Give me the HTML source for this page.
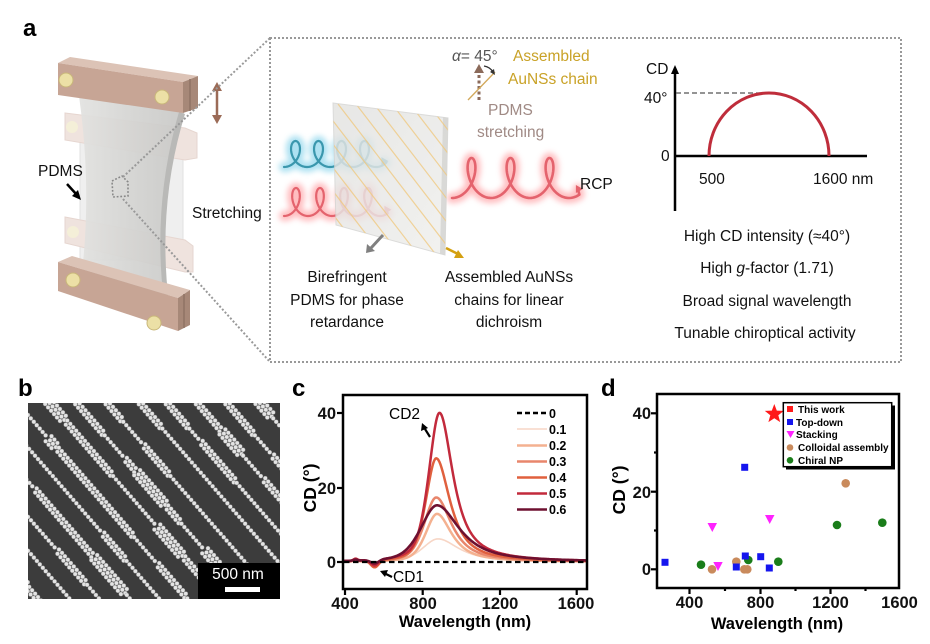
<!DOCTYPE html>
<html>
<head>
<meta charset="utf-8">
<style>
html,body{margin:0;padding:0;background:#fff;}
body{width:930px;height:644px;overflow:hidden;}
svg{display:block;font-family:"Liberation Sans",Arial,sans-serif;}
.lbl{font-weight:bold;font-size:24px;fill:#000;}
.t15{font-size:15.5px;fill:#111;}
.tick{font-weight:bold;font-size:16.5px;fill:#111;}
</style>
</head>
<body>
<svg id="s" width="930" height="644" viewBox="0 0 930 644" xmlns="http://www.w3.org/2000/svg">
<defs>
  <filter id="blur3" x="-20%" y="-50%" width="140%" height="200%"><feGaussianBlur stdDeviation="3"/></filter>
  <clipPath id="clipC"><rect x="344" y="396" width="242" height="192"/></clipPath>
  <clipPath id="clipB"><rect x="28" y="403" width="252" height="196"/></clipPath>
  <linearGradient id="film" x1="0" y1="0" x2="1" y2="0">
    <stop offset="0" stop-color="#e2e2e0"/><stop offset="0.5" stop-color="#d4d4d2"/><stop offset="1" stop-color="#c8c8c6"/>
  </linearGradient>
  <linearGradient id="slab" x1="0" y1="0" x2="1" y2="1">
    <stop offset="0" stop-color="#e2e2e0"/><stop offset="1" stop-color="#efefed"/>
  </linearGradient>
</defs>

<!-- ============ PANEL A ============ -->
<text class="lbl" x="23" y="36">a</text>

<g id="device">
  <rect x="80" y="135" width="103" height="125" fill="#efefef" stroke="#e2e2e2"/>
  <polygon points="65,113 185,128 197,133 197,158 185,160 65,140" fill="#efe3de" stroke="#e6d6d0"/>
  <circle cx="72" cy="127" r="6" fill="#f4efd8"/>
  <polygon points="65,217 185,240 193,246 193,272 185,272 65,243" fill="#efe3de" stroke="#e6d6d0"/>
  <circle cx="73" cy="232" r="6" fill="#f4efd8"/>
  <path d="M79,96 Q93,195 80,288 L168,304 Q150,205 184,113 Z" fill="url(#film)" opacity="0.93"/>
  <path d="M179,112 Q152,205 164,302 L169,304 Q157,205 185,114 Z" fill="#b9b9b7"/>
  <polygon points="58,262 72,256 190,290 178,298" fill="#dcc3b6"/>
  <polygon points="58,262 178,298 178,331 58,291" fill="#c7a595"/>
  <polygon points="178,298 190,290 190,325 178,331" fill="#a78878"/>
  <line x1="184" y1="294" x2="184" y2="328" stroke="#8f7264" stroke-width="1.5"/>
  <circle cx="73" cy="280" r="7" fill="#ece0a6" stroke="#c9b77a"/>
  <circle cx="154" cy="323" r="7" fill="#ece0a6" stroke="#c9b77a"/>
  <polygon points="58,63 70,57 198,76 183,82" fill="#dcc3b6"/>
  <polygon points="58,63 183,82 183,113 58,95" fill="#c7a595"/>
  <polygon points="183,82 198,76 198,108 183,113" fill="#a78878"/>
  <line x1="190" y1="79" x2="190" y2="111" stroke="#8f7264" stroke-width="1.5"/>
  <circle cx="66" cy="80" r="7" fill="#ece0a6" stroke="#c9b77a"/>
  <circle cx="162" cy="97" r="7" fill="#ece0a6" stroke="#c9b77a"/>
  <line x1="217" y1="89" x2="217" y2="117" stroke="#9b6b57" stroke-width="2.5"/>
  <polygon points="217,82 212,91 222,91" fill="#9b6b57"/>
  <polygon points="217,124 212,115 222,115" fill="#9b6b57"/>
  <line x1="67" y1="184" x2="77" y2="195" stroke="#000" stroke-width="2.5"/>
  <polygon points="81,200 72,196 78,190" fill="#000"/>
  <polygon points="112,181 122,176 128,182 128,196 113,197" fill="none" stroke="#888" stroke-width="1.6" stroke-dasharray="1.8 1.8"/>
</g>
<text class="t15" x="38" y="176">PDMS</text>
<text class="t15" x="192" y="218">Stretching</text>

<g stroke="#999" stroke-width="2" stroke-dasharray="2 2" fill="none">
  <line x1="123" y1="177" x2="270" y2="38"/>
  <line x1="123" y1="199" x2="270" y2="362"/>
  <rect x="270" y="38" width="631" height="324"/>
</g>

<g id="helices"></g>

<polygon points="333,103 448,118 445,255 336,225" fill="url(#slab)" opacity="0.82" stroke="#d4d4d2"/>
<polygon points="443,117 448,118 445,255 440,254" fill="#d6d6d4" opacity="0.9"/>
<g id="slablines" stroke="#f0c77a" stroke-width="1.2" opacity="0.75"></g>

<line x1="383" y1="235" x2="371" y2="248" stroke="#808080" stroke-width="3"/>
<polygon points="366,253 367,244 375,251" fill="#808080"/>
<line x1="446" y1="248" x2="458" y2="254" stroke="#d4a011" stroke-width="2.5"/>
<polygon points="464,258 454,258 458,250" fill="#d4a011"/>

<line x1="479" y1="100" x2="479" y2="72" stroke="#8b6a5a" stroke-width="3" stroke-dasharray="3 2.5"/>
<polygon points="479,64 474,73 484,73" fill="#8b6a5a"/>
<line x1="468" y1="100" x2="495" y2="72" stroke="#d2a85a" stroke-width="1.3"/>
<path d="M484,66 Q490,67 493,72" stroke="#333" stroke-width="1.3" fill="none"/>
<polygon points="495,75 490,72 494,69" fill="#333"/>
<text x="452" y="61" style="font-size:15.5px;fill:#555;"><tspan font-style="italic">α</tspan>= 45°</text>
<text x="513" y="61" style="font-size:15.5px;fill:#c9a227;">Assembled</text>
<text x="508" y="84" style="font-size:15.5px;fill:#c9a227;">AuNSs chain</text>
<text x="488" y="115" style="font-size:15.5px;fill:#a08a85;">PDMS</text>
<text x="477" y="137" style="font-size:15.5px;fill:#a08a85;">stretching</text>
<text class="t15" x="580" y="189">RCP</text>

<g class="t15" text-anchor="middle">
  <text x="347" y="282">Birefringent</text>
  <text x="347" y="305">PDMS for phase</text>
  <text x="347" y="327">retardance</text>
  <text x="509" y="282">Assembled AuNSs</text>
  <text x="509" y="305">chains for linear</text>
  <text x="509" y="327">dichroism</text>
</g>

<line x1="675" y1="72" x2="675" y2="211" stroke="#000" stroke-width="2.5"/>
<polygon points="675,65 671,74 679,74" fill="#000"/>
<line x1="674" y1="156" x2="867" y2="156" stroke="#000" stroke-width="2.5"/>
<line x1="676" y1="93" x2="768" y2="93" stroke="#555" stroke-width="1.3" stroke-dasharray="5 3"/>
<path d="M709,156 A60,63 0 0 1 829,156" fill="none" stroke="#bf2d3b" stroke-width="3"/>
<text class="t15" x="646" y="74">CD</text>
<text class="t15" x="644" y="103">40°</text>
<text class="t15" x="661" y="161">0</text>
<text class="t15" x="699" y="184">500</text>
<text class="t15" x="813" y="184">1600 nm</text>
<g class="t15" text-anchor="middle">
  <text x="767" y="241">High CD intensity (≈40°)</text>
  <text x="767" y="273">High <tspan font-style="italic">g</tspan>-factor (1.71)</text>
  <text x="767" y="306">Broad signal wavelength</text>
  <text x="765" y="338">Tunable chiroptical activity</text>
</g>

<!-- ============ PANEL B ============ -->
<text class="lbl" x="18" y="396">b</text>
<rect x="28" y="403" width="252" height="196" fill="#3c3c3c"/>
<g id="sem" clip-path="url(#clipB)"></g>
<rect x="198" y="563" width="82" height="36" fill="#000"/>
<text x="238" y="579" text-anchor="middle" style="font-size:15.5px;fill:#fff;">500 nm</text>
<rect x="225" y="587" width="35" height="5" fill="#fff"/>

<!-- ============ PANEL C ============ -->
<text class="lbl" x="292" y="396">c</text>
<g id="curves" clip-path="url(#clipC)"></g>
<line x1="344" y1="562" x2="586" y2="562" stroke="#000" stroke-width="2.3" stroke-dasharray="5.5 3.5" clip-path="url(#clipC)"/>
<rect x="343" y="395" width="244" height="194" fill="none" stroke="#000" stroke-width="2.5"/>
<g stroke="#000" stroke-width="2.2">
  <line x1="337" y1="413" x2="343" y2="413"/>
  <line x1="337" y1="488" x2="343" y2="488"/>
  <line x1="337" y1="562" x2="343" y2="562"/>
  <line x1="345" y1="589" x2="345" y2="595"/>
  <line x1="422.7" y1="589" x2="422.7" y2="595"/>
  <line x1="500" y1="589" x2="500" y2="595"/>
  <line x1="576.7" y1="589" x2="576.7" y2="595"/>
</g>
<g class="tick" text-anchor="end">
  <text x="336" y="419">40</text>
  <text x="336" y="494">20</text>
  <text x="336" y="568">0</text>
</g>
<g class="tick" text-anchor="middle">
  <text x="345" y="609">400</text>
  <text x="423" y="609">800</text>
  <text x="500" y="609">1200</text>
  <text x="576" y="609">1600</text>
</g>
<text x="465" y="627" text-anchor="middle" style="font-weight:bold;font-size:16.5px;">Wavelength (nm)</text>
<text transform="translate(316,488) rotate(-90)" text-anchor="middle" style="font-weight:bold;font-size:17.5px;">CD (°)</text>
<text x="389" y="419" style="font-size:15.5px;">CD2</text>
<line x1="430" y1="437" x2="425" y2="429" stroke="#000" stroke-width="2.2"/>
<polygon points="422,423 421,431 428,428" fill="#000"/>
<text x="393" y="582" style="font-size:15.5px;">CD1</text>
<line x1="392" y1="577" x2="386" y2="574" stroke="#000" stroke-width="2.2"/>
<polygon points="380,571 388,570 385,577" fill="#000"/>
<g stroke-width="2.5">
  <line x1="517" y1="413" x2="547" y2="413" stroke="#000" stroke-dasharray="5 3"/>
  <line x1="517" y1="429" x2="547" y2="429" stroke="#f7d6c6" stroke-width="1.6"/>
  <line x1="517" y1="445.5" x2="547" y2="445.5" stroke="#f4b190"/>
  <line x1="517" y1="461.5" x2="547" y2="461.5" stroke="#e8866c"/>
  <line x1="517" y1="477.5" x2="547" y2="477.5" stroke="#e0603e"/>
  <line x1="517" y1="493.5" x2="547" y2="493.5" stroke="#c22a3c"/>
  <line x1="517" y1="509.5" x2="547" y2="509.5" stroke="#6e1030"/>
</g>
<g style="font-weight:bold;font-size:12.5px;">
  <text x="549" y="418">0</text>
  <text x="549" y="434">0.1</text>
  <text x="549" y="450">0.2</text>
  <text x="549" y="466">0.3</text>
  <text x="549" y="482">0.4</text>
  <text x="549" y="498">0.5</text>
  <text x="549" y="514">0.6</text>
</g>

<!-- ============ PANEL D ============ -->
<text class="lbl" x="601" y="396">d</text>
<rect x="657" y="394" width="242" height="194" fill="none" stroke="#000" stroke-width="2.5"/>
<g stroke="#000" stroke-width="2.2">
  <line x1="651" y1="413.3" x2="657" y2="413.3"/>
  <line x1="654" y1="452.5" x2="657" y2="452.5"/>
  <line x1="651" y1="491.7" x2="657" y2="491.7"/>
  <line x1="654" y1="530.5" x2="657" y2="530.5"/>
  <line x1="651" y1="569.3" x2="657" y2="569.3"/>
  <line x1="689.5" y1="588" x2="689.5" y2="594"/>
  <line x1="725" y1="588" x2="725" y2="591"/>
  <line x1="760.5" y1="588" x2="760.5" y2="594"/>
  <line x1="795.5" y1="588" x2="795.5" y2="591"/>
  <line x1="830.5" y1="588" x2="830.5" y2="594"/>
  <line x1="865.5" y1="588" x2="865.5" y2="591"/>
</g>
<g class="tick" text-anchor="end">
  <text x="651" y="419">40</text>
  <text x="651" y="498">20</text>
  <text x="651" y="575">0</text>
</g>
<g class="tick" text-anchor="middle">
  <text x="689.5" y="608">400</text>
  <text x="760.5" y="608">800</text>
  <text x="830.5" y="608">1200</text>
  <text x="899.5" y="608">1600</text>
</g>
<text x="777" y="629" text-anchor="middle" style="font-weight:bold;font-size:16.5px;">Wavelength (nm)</text>
<text transform="translate(625,490) rotate(-90)" text-anchor="middle" style="font-weight:bold;font-size:17.5px;">CD (°)</text>

<g fill="#c98a5c">
  <circle cx="712" cy="569.3" r="4.3"/><circle cx="736.3" cy="561.7" r="4.3"/>
  <circle cx="744.3" cy="569.3" r="4.3"/><circle cx="747.3" cy="569.3" r="4.3"/>
  <circle cx="845.7" cy="483.3" r="4.3"/>
</g>
<g fill="#1a7d1a">
  <circle cx="701" cy="564.7" r="4.3"/><circle cx="748.3" cy="560" r="4.3"/>
  <circle cx="778.3" cy="561.7" r="4.3"/><circle cx="837" cy="525" r="4.3"/>
  <circle cx="882.3" cy="522.7" r="4.3"/>
</g>
<g fill="#1515ee">
  <rect x="661.5" y="558.8" width="7" height="7"/><rect x="732.8" y="563.5" width="7" height="7"/>
  <rect x="741.8" y="552.5" width="7" height="7"/><rect x="741.2" y="463.8" width="7" height="7"/>
  <rect x="757.2" y="553.2" width="7" height="7"/><rect x="765.8" y="564.5" width="7" height="7"/>
</g>
<g fill="#ff22ff">
  <polygon points="707.5,523 717,523 712.3,532"/>
  <polygon points="713.3,562 722.7,562 718,571"/>
  <polygon points="765,515 774.5,515 769.7,524"/>
</g>
<polygon id="star" fill="#ff1a1a" points=""/>

<rect x="786" y="405.5" width="109" height="64" fill="#000"/>
<rect x="783.3" y="402.7" width="108.4" height="64" fill="#fff" stroke="#000" stroke-width="1.5"/>
<rect x="787" y="406" width="6" height="6" fill="#ff1a1a"/>
<rect x="787" y="419" width="6" height="6" fill="#1515ee"/>
<polygon points="786.5,431 794.5,431 790.5,438" fill="#ff22ff"/>
<circle cx="790" cy="447.5" r="3.3" fill="#c98a5c"/>
<circle cx="790" cy="460.3" r="3.3" fill="#1a7d1a"/>
<g style="font-weight:bold;font-size:10px;">
  <text x="798" y="413">This work</text>
  <text x="796" y="426">Top-down</text>
  <text x="796" y="438">Stacking</text>
  <text x="798" y="451">Colloidal assembly</text>
  <text x="798" y="464">Chiral NP</text>
</g>
</svg>

<script>
(function(){
  var NS="http://www.w3.org/2000/svg";
  function el(tag, attrs, parent){var e=document.createElementNS(NS,tag);for(var k in attrs)e.setAttribute(k,attrs[k]);parent.appendChild(e);return e;}

  (function(){
    var cx=774.3, cy=414, R=10, r=4.2, pts=[];
    for(var i=0;i<10;i++){var a=-Math.PI/2+i*Math.PI/5;var rr=i%2?r:R;pts.push((cx+rr*Math.cos(a)).toFixed(1)+","+(cy+rr*Math.sin(a)).toFixed(1));}
    document.getElementById("star").setAttribute("points",pts.join(" "));
  })();

  var hg=document.getElementById("helices");
  function helix(xs, yc, period, bx, by, loops, tail){
    var a=period/(2*Math.PI), d="";
    var t0=Math.PI, t1=Math.PI+2*Math.PI*loops, n=0;
    for(var t=t0;t<=t1+1e-6;t+=0.08){
      var x=xs+a*(t-t0)-bx*Math.sin(t), y=yc-by*Math.cos(t);
      d+=(n++?"L":"M")+x.toFixed(2)+","+y.toFixed(2);
    }
    var xe=xs+a*(t1-t0); d+="L"+(xe+tail).toFixed(2)+","+(yc+by*0.55).toFixed(2);
    return {d:d, xe:xe+tail, ye:yc+by*0.55};
  }
  function drawHelix(h, glow, col, w, arrow){
    el("path",{d:h.d,fill:"none",stroke:glow,"stroke-width":w+8,"stroke-linecap":"round","stroke-linejoin":"round",filter:"url(#blur3)",opacity:"0.85"},hg);
    el("path",{d:h.d,fill:"none",stroke:col,"stroke-width":w,"stroke-linecap":"round","stroke-linejoin":"round"},hg);
    if(arrow){el("polygon",{points:(h.xe+5)+","+h.ye+" "+(h.xe-2)+","+(h.ye-4)+" "+(h.xe-2)+","+(h.ye+4),fill:col},hg);}
  }
  drawHelix(helix(284,154,23,9.5,13,4.15,4),"#9fdcef","#3a97ad",2.2,true);
  drawHelix(helix(284,202,24,9,14,4.1,4),"#ffb3b6","#e4636d",2.2,true);
  drawHelix(helix(452,178,39,12,20,3.1,5),"#ffb3b6","#e4636d",2.6,true);

  var sl=document.getElementById("slablines");
  var clip=el("clipPath",{id:"slabclip"},document.querySelector("defs"));
  el("polygon",{points:"333,103 448,118 445,255 336,225"},clip);
  sl.setAttribute("clip-path","url(#slabclip)");
  for(var k=-10;k<10;k++){
    var x0=338+k*18, y0=104;
    el("line",{x1:x0,y1:y0,x2:x0+150,y2:y0+195},sl);
  }

  var sem=document.getElementById("sem");
  var seed=12345;function rnd(){seed=(seed*16807)%2147483647;return seed/2147483647;}
  var ang=49*Math.PI/180, dx=Math.cos(ang), dy=Math.sin(ang), px=-dy, py=dx;
  var frag="";
  for(var k=-9;k<=10;k++){
    var sx=44+30*k+ (rnd()-0.5)*4, sy=398;
    var s=0, width=1, segLeft=0;
    while(s<340){
      if(segLeft<=0){var r=rnd();width=r<0.5?1:(r<0.88?2:3);segLeft=12+rnd()*40;}
      var cx=sx+dx*s, cy=sy+dy*s;
      if(cx>20&&cx<288&&cy>396&&cy<606){
        for(var j=0;j<width;j++){
          var off=(j-(width-1)/2)*3.9;
          var xx=cx+px*off+(j%2?dx*2.2:0), yy=cy+py*off+(j%2?dy*2.2:0);
          frag+='<circle cx="'+xx.toFixed(1)+'" cy="'+yy.toFixed(1)+'" r="2.05"/>';
        }
      }
      s+=4.5; segLeft-=4.5;
    }
  }
  sem.innerHTML='<g fill="#e4e4e4" stroke="#8a8a8a" stroke-width="0.4">'+frag+'</g>';

  var cg=document.getElementById("curves");
  function X(nm){return 345+(nm-400)*0.1917;}
  function Y(v){return 562-v*3.73;}
  function pv(d,hw,eta){var L=1/(1+(d/hw)*(d/hw));var G=Math.exp(-Math.LN2*(d/hw)*(d/hw));return eta*L+(1-eta)*G;}
  var series=[
    {A:6.2,c:885,wl:95,wr:130,col:"#f7d6c6",w:1.6,dip:-0.5,bump:0.3},
    {A:12.9,c:880,wl:70,wr:92,col:"#f4b190",w:2.5,dip:-1.0,bump:0.4},
    {A:17.3,c:876,wl:74,wr:96,col:"#e8866c",w:2.5,dip:-1.8,bump:0.6},
    {A:27.8,c:876,wl:64,wr:86,col:"#e0603e",w:2.5,dip:-1.9,bump:0.6},
    {A:40,c:893,wl:66,wr:84,col:"#c22a3c",w:2.5,dip:-1.6,bump:0.5},
    {A:15.2,c:880,wl:100,wr:140,col:"#6e1030",w:2.6,dip:-1.0,bump:0.3}
  ];
  series.forEach(function(sr){
    var d="";
    for(var nm=380;nm<=1660;nm+=4){
      var dd=nm-sr.c, v;
      if(dd<0) v=sr.A*pv(dd,sr.wl,0.45); else v=sr.A*pv(dd,sr.wr,0.9);
      v+=sr.dip*Math.exp(-Math.pow((nm-555)/28,2));
      v+=sr.bump*Math.exp(-Math.pow((nm-455)/14,2));
      d+=(nm===380?"M":"L")+X(nm).toFixed(2)+","+Y(v).toFixed(2);
    }
    el("path",{d:d,fill:"none",stroke:sr.col,"stroke-width":sr.w,"stroke-linejoin":"round"},cg);
  });
})();
</script>
</body>
</html>
